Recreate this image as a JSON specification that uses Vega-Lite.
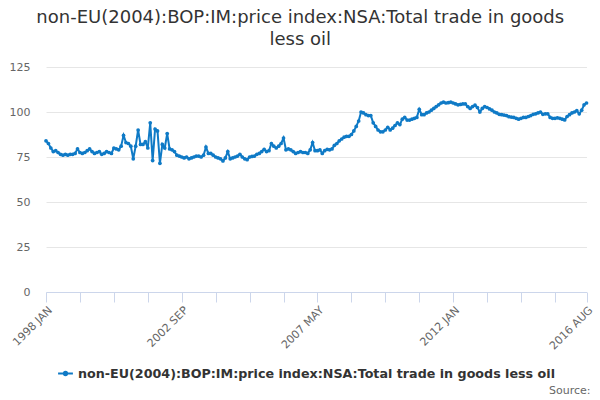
{
  "$schema": "https://vega.github.io/schema/vega-lite/v6.json",
  "width": 540.5,
  "height": 225,
  "autosize": "none",
  "padding": {"left": 46, "top": 67, "right": 13.5, "bottom": 108},
  "title": {
    "text": ["non-EU(2004):BOP:IM:price index:NSA:Total trade in goods", "less oil"],
    "anchor": "middle",
    "dx": -16,
    "offset": 12,
    "fontSize": 18,
    "fontWeight": "normal",
    "font": "DejaVu Sans",
    "color": "#333333",
    "lineHeight": 22
  },
  "data": {
    "values": [
      {"m": "1998 JAN", "v": 84}, {"m": "1998 FEB", "v": 82.5}, {"m": "1998 MAR", "v": 80}, {"m": "1998 APR", "v": 78},
      {"m": "1998 MAY", "v": 78.5}, {"m": "1998 JUN", "v": 77.5}, {"m": "1998 JUL", "v": 76.5}, {"m": "1998 AUG", "v": 76},
      {"m": "1998 SEP", "v": 76.5}, {"m": "1998 OCT", "v": 76}, {"m": "1998 NOV", "v": 76.5}, {"m": "1998 DEC", "v": 76.5},
      {"m": "1999 JAN", "v": 77}, {"m": "1999 FEB", "v": 79.5}, {"m": "1999 MAR", "v": 77.5}, {"m": "1999 APR", "v": 77},
      {"m": "1999 MAY", "v": 77.5}, {"m": "1999 JUN", "v": 78.5}, {"m": "1999 JUL", "v": 79.5}, {"m": "1999 AUG", "v": 78},
      {"m": "1999 SEP", "v": 77}, {"m": "1999 OCT", "v": 77.5}, {"m": "1999 NOV", "v": 78}, {"m": "1999 DEC", "v": 76.5},
      {"m": "2000 JAN", "v": 77}, {"m": "2000 FEB", "v": 78}, {"m": "2000 MAR", "v": 77.5}, {"m": "2000 APR", "v": 77},
      {"m": "2000 MAY", "v": 80}, {"m": "2000 JUN", "v": 79.5}, {"m": "2000 JUL", "v": 79}, {"m": "2000 AUG", "v": 81},
      {"m": "2000 SEP", "v": 87}, {"m": "2000 OCT", "v": 83}, {"m": "2000 NOV", "v": 82.5}, {"m": "2000 DEC", "v": 81},
      {"m": "2001 JAN", "v": 74}, {"m": "2001 FEB", "v": 81}, {"m": "2001 MAR", "v": 90}, {"m": "2001 APR", "v": 82},
      {"m": "2001 MAY", "v": 82}, {"m": "2001 JUN", "v": 83.5}, {"m": "2001 JUL", "v": 80}, {"m": "2001 AUG", "v": 94},
      {"m": "2001 SEP", "v": 73}, {"m": "2001 OCT", "v": 90.5}, {"m": "2001 NOV", "v": 89.5}, {"m": "2001 DEC", "v": 71.5},
      {"m": "2002 JAN", "v": 82}, {"m": "2002 FEB", "v": 80}, {"m": "2002 MAR", "v": 88}, {"m": "2002 APR", "v": 79.5},
      {"m": "2002 MAY", "v": 79}, {"m": "2002 JUN", "v": 78}, {"m": "2002 JUL", "v": 76}, {"m": "2002 AUG", "v": 75.5},
      {"m": "2002 SEP", "v": 75}, {"m": "2002 OCT", "v": 74.5}, {"m": "2002 NOV", "v": 75}, {"m": "2002 DEC", "v": 74},
      {"m": "2003 JAN", "v": 74.5}, {"m": "2003 FEB", "v": 75}, {"m": "2003 MAR", "v": 75.5}, {"m": "2003 APR", "v": 75.5},
      {"m": "2003 MAY", "v": 75}, {"m": "2003 JUN", "v": 76}, {"m": "2003 JUL", "v": 80.5}, {"m": "2003 AUG", "v": 77},
      {"m": "2003 SEP", "v": 77}, {"m": "2003 OCT", "v": 76}, {"m": "2003 NOV", "v": 75}, {"m": "2003 DEC", "v": 74.5},
      {"m": "2004 JAN", "v": 74}, {"m": "2004 FEB", "v": 72.8}, {"m": "2004 MAR", "v": 74.5}, {"m": "2004 APR", "v": 78},
      {"m": "2004 MAY", "v": 74}, {"m": "2004 JUN", "v": 74.5}, {"m": "2004 JUL", "v": 75}, {"m": "2004 AUG", "v": 75.5},
      {"m": "2004 SEP", "v": 76.5}, {"m": "2004 OCT", "v": 75}, {"m": "2004 NOV", "v": 74}, {"m": "2004 DEC", "v": 73.5},
      {"m": "2005 JAN", "v": 75}, {"m": "2005 FEB", "v": 75.3}, {"m": "2005 MAR", "v": 75.5}, {"m": "2005 APR", "v": 76.5},
      {"m": "2005 MAY", "v": 77}, {"m": "2005 JUN", "v": 78}, {"m": "2005 JUL", "v": 79.3}, {"m": "2005 AUG", "v": 78},
      {"m": "2005 SEP", "v": 78.5}, {"m": "2005 OCT", "v": 82.5}, {"m": "2005 NOV", "v": 81}, {"m": "2005 DEC", "v": 80},
      {"m": "2006 JAN", "v": 81}, {"m": "2006 FEB", "v": 82.5}, {"m": "2006 MAR", "v": 85.5}, {"m": "2006 APR", "v": 79},
      {"m": "2006 MAY", "v": 79.5}, {"m": "2006 JUN", "v": 79}, {"m": "2006 JUL", "v": 78}, {"m": "2006 AUG", "v": 77},
      {"m": "2006 SEP", "v": 77.5}, {"m": "2006 OCT", "v": 78}, {"m": "2006 NOV", "v": 77.5}, {"m": "2006 DEC", "v": 77.5},
      {"m": "2007 JAN", "v": 77}, {"m": "2007 FEB", "v": 79}, {"m": "2007 MAR", "v": 83}, {"m": "2007 APR", "v": 78.5},
      {"m": "2007 MAY", "v": 78.5}, {"m": "2007 JUN", "v": 79}, {"m": "2007 JUL", "v": 77}, {"m": "2007 AUG", "v": 78.5},
      {"m": "2007 SEP", "v": 79.3}, {"m": "2007 OCT", "v": 79}, {"m": "2007 NOV", "v": 79.5}, {"m": "2007 DEC", "v": 81.5},
      {"m": "2008 JAN", "v": 82.5}, {"m": "2008 FEB", "v": 84}, {"m": "2008 MAR", "v": 85}, {"m": "2008 APR", "v": 86},
      {"m": "2008 MAY", "v": 86.5}, {"m": "2008 JUN", "v": 86.5}, {"m": "2008 JUL", "v": 87.5}, {"m": "2008 AUG", "v": 89.5},
      {"m": "2008 SEP", "v": 92}, {"m": "2008 OCT", "v": 95}, {"m": "2008 NOV", "v": 100}, {"m": "2008 DEC", "v": 99.5},
      {"m": "2009 JAN", "v": 98.5}, {"m": "2009 FEB", "v": 98}, {"m": "2009 MAR", "v": 98}, {"m": "2009 APR", "v": 94},
      {"m": "2009 MAY", "v": 92}, {"m": "2009 JUN", "v": 90}, {"m": "2009 JUL", "v": 89}, {"m": "2009 AUG", "v": 89},
      {"m": "2009 SEP", "v": 90}, {"m": "2009 OCT", "v": 91.5}, {"m": "2009 NOV", "v": 90}, {"m": "2009 DEC", "v": 91},
      {"m": "2010 JAN", "v": 92.5}, {"m": "2010 FEB", "v": 94}, {"m": "2010 MAR", "v": 93}, {"m": "2010 APR", "v": 96},
      {"m": "2010 MAY", "v": 97}, {"m": "2010 JUN", "v": 95.5}, {"m": "2010 JUL", "v": 95.5}, {"m": "2010 AUG", "v": 96},
      {"m": "2010 SEP", "v": 96.5}, {"m": "2010 OCT", "v": 97}, {"m": "2010 NOV", "v": 101.5}, {"m": "2010 DEC", "v": 98.5},
      {"m": "2011 JAN", "v": 98.5}, {"m": "2011 FEB", "v": 99.5}, {"m": "2011 MAR", "v": 100}, {"m": "2011 APR", "v": 101},
      {"m": "2011 MAY", "v": 102}, {"m": "2011 JUN", "v": 103}, {"m": "2011 JUL", "v": 104}, {"m": "2011 AUG", "v": 105},
      {"m": "2011 SEP", "v": 105.5}, {"m": "2011 OCT", "v": 105}, {"m": "2011 NOV", "v": 105.2}, {"m": "2011 DEC", "v": 105.5},
      {"m": "2012 JAN", "v": 105}, {"m": "2012 FEB", "v": 104.5}, {"m": "2012 MAR", "v": 104}, {"m": "2012 APR", "v": 104.2},
      {"m": "2012 MAY", "v": 104.5}, {"m": "2012 JUN", "v": 104.5}, {"m": "2012 JUL", "v": 103}, {"m": "2012 AUG", "v": 102},
      {"m": "2012 SEP", "v": 103}, {"m": "2012 OCT", "v": 103.8}, {"m": "2012 NOV", "v": 102.5}, {"m": "2012 DEC", "v": 100},
      {"m": "2013 JAN", "v": 102}, {"m": "2013 FEB", "v": 103}, {"m": "2013 MAR", "v": 102.5}, {"m": "2013 APR", "v": 101.7},
      {"m": "2013 MAY", "v": 101}, {"m": "2013 JUN", "v": 100}, {"m": "2013 JUL", "v": 99.5}, {"m": "2013 AUG", "v": 98.7},
      {"m": "2013 SEP", "v": 98.5}, {"m": "2013 OCT", "v": 98.3}, {"m": "2013 NOV", "v": 98}, {"m": "2013 DEC", "v": 97.4},
      {"m": "2014 JAN", "v": 97.2}, {"m": "2014 FEB", "v": 97}, {"m": "2014 MAR", "v": 96.5}, {"m": "2014 APR", "v": 96},
      {"m": "2014 MAY", "v": 96.5}, {"m": "2014 JUN", "v": 97}, {"m": "2014 JUL", "v": 97}, {"m": "2014 AUG", "v": 97.5},
      {"m": "2014 SEP", "v": 98}, {"m": "2014 OCT", "v": 98.7}, {"m": "2014 NOV", "v": 99}, {"m": "2014 DEC", "v": 99.5},
      {"m": "2015 JAN", "v": 100}, {"m": "2015 FEB", "v": 98.7}, {"m": "2015 MAR", "v": 99}, {"m": "2015 APR", "v": 99},
      {"m": "2015 MAY", "v": 97}, {"m": "2015 JUN", "v": 96.5}, {"m": "2015 JUL", "v": 96.5}, {"m": "2015 AUG", "v": 96.8},
      {"m": "2015 SEP", "v": 96.5}, {"m": "2015 OCT", "v": 96}, {"m": "2015 NOV", "v": 95.6}, {"m": "2015 DEC", "v": 97.5},
      {"m": "2016 JAN", "v": 98.5}, {"m": "2016 FEB", "v": 99.5}, {"m": "2016 MAR", "v": 100}, {"m": "2016 APR", "v": 100.7},
      {"m": "2016 MAY", "v": 99}, {"m": "2016 JUN", "v": 101}, {"m": "2016 JUL", "v": 104}, {"m": "2016 AUG", "v": 105}
    ]
  },
  "mark": {
    "type": "line",
    "strokeWidth": 2,
    "point": {"filled": true, "size": 14}
  },
  "encoding": {
    "x": {
      "field": "m",
      "type": "ordinal",
      "sort": null,
      "scale": {"type": "point", "padding": 0},
      "axis": {
        "values": ["1998 JAN", "1999 MAR", "2000 MAY", "2001 JUL", "2002 SEP", "2003 NOV", "2005 JAN", "2006 MAR", "2007 MAY", "2008 JUL", "2009 SEP", "2010 NOV", "2012 JAN", "2013 MAR", "2014 MAY", "2015 JUL", "2016 AUG"],
        "labelExpr": "indexof(['1998 JAN', '2002 SEP', '2007 MAY', '2012 JAN', '2016 AUG'], datum.value) >= 0 ? datum.value : ''",
        "labelAngle": -45,
        "labelFontSize": 11,
        "labelColor": "#666666",
        "labelFont": "DejaVu Sans",
        "domainColor": "#ccd6eb",
        "tickColor": "#ccd6eb",
        "tickSize": 10,
        "grid": false,
        "title": "Source:",
        "titleFont": "DejaVu Sans",
        "titleFontSize": 11,
        "titleFontWeight": "normal",
        "titleColor": "#666666",
        "titleAlign": "right",
        "titleX": 544,
        "titleY": 92
      }
    },
    "y": {
      "field": "v",
      "type": "quantitative",
      "scale": {"domain": [0, 125], "nice": false},
      "axis": {
        "values": [0, 25, 50, 75, 100, 125],
        "title": null,
        "domain": false,
        "ticks": false,
        "labelPadding": 16,
        "labelFontSize": 11,
        "labelColor": "#666666",
        "labelFont": "DejaVu Sans",
        "gridColor": "#e6e6e6"
      }
    },
    "color": {
      "datum": "non-EU(2004):BOP:IM:price index:NSA:Total trade in goods less oil",
      "scale": {"range": ["#0f7ac6"]},
      "legend": {
        "title": null,
        "orient": "none",
        "legendX": 11,
        "legendY": 298,
        "labelFontSize": 12.7,
        "labelFontWeight": "bold",
        "labelColor": "#333333",
        "labelFont": "DejaVu Sans",
        "labelLimit": 600,
        "symbolType": "M-1,0H1M-0.22,0A0.22,0.22,0,1,1,0.22,0A0.22,0.22,0,1,1,-0.22,0Z",
        "symbolSize": 220,
        "symbolStrokeWidth": 2,
        "symbolFillColor": "#0f7ac6"
      }
    }
  },
  "config": {
    "view": {"stroke": null},
    "background": "white"
  }
}
